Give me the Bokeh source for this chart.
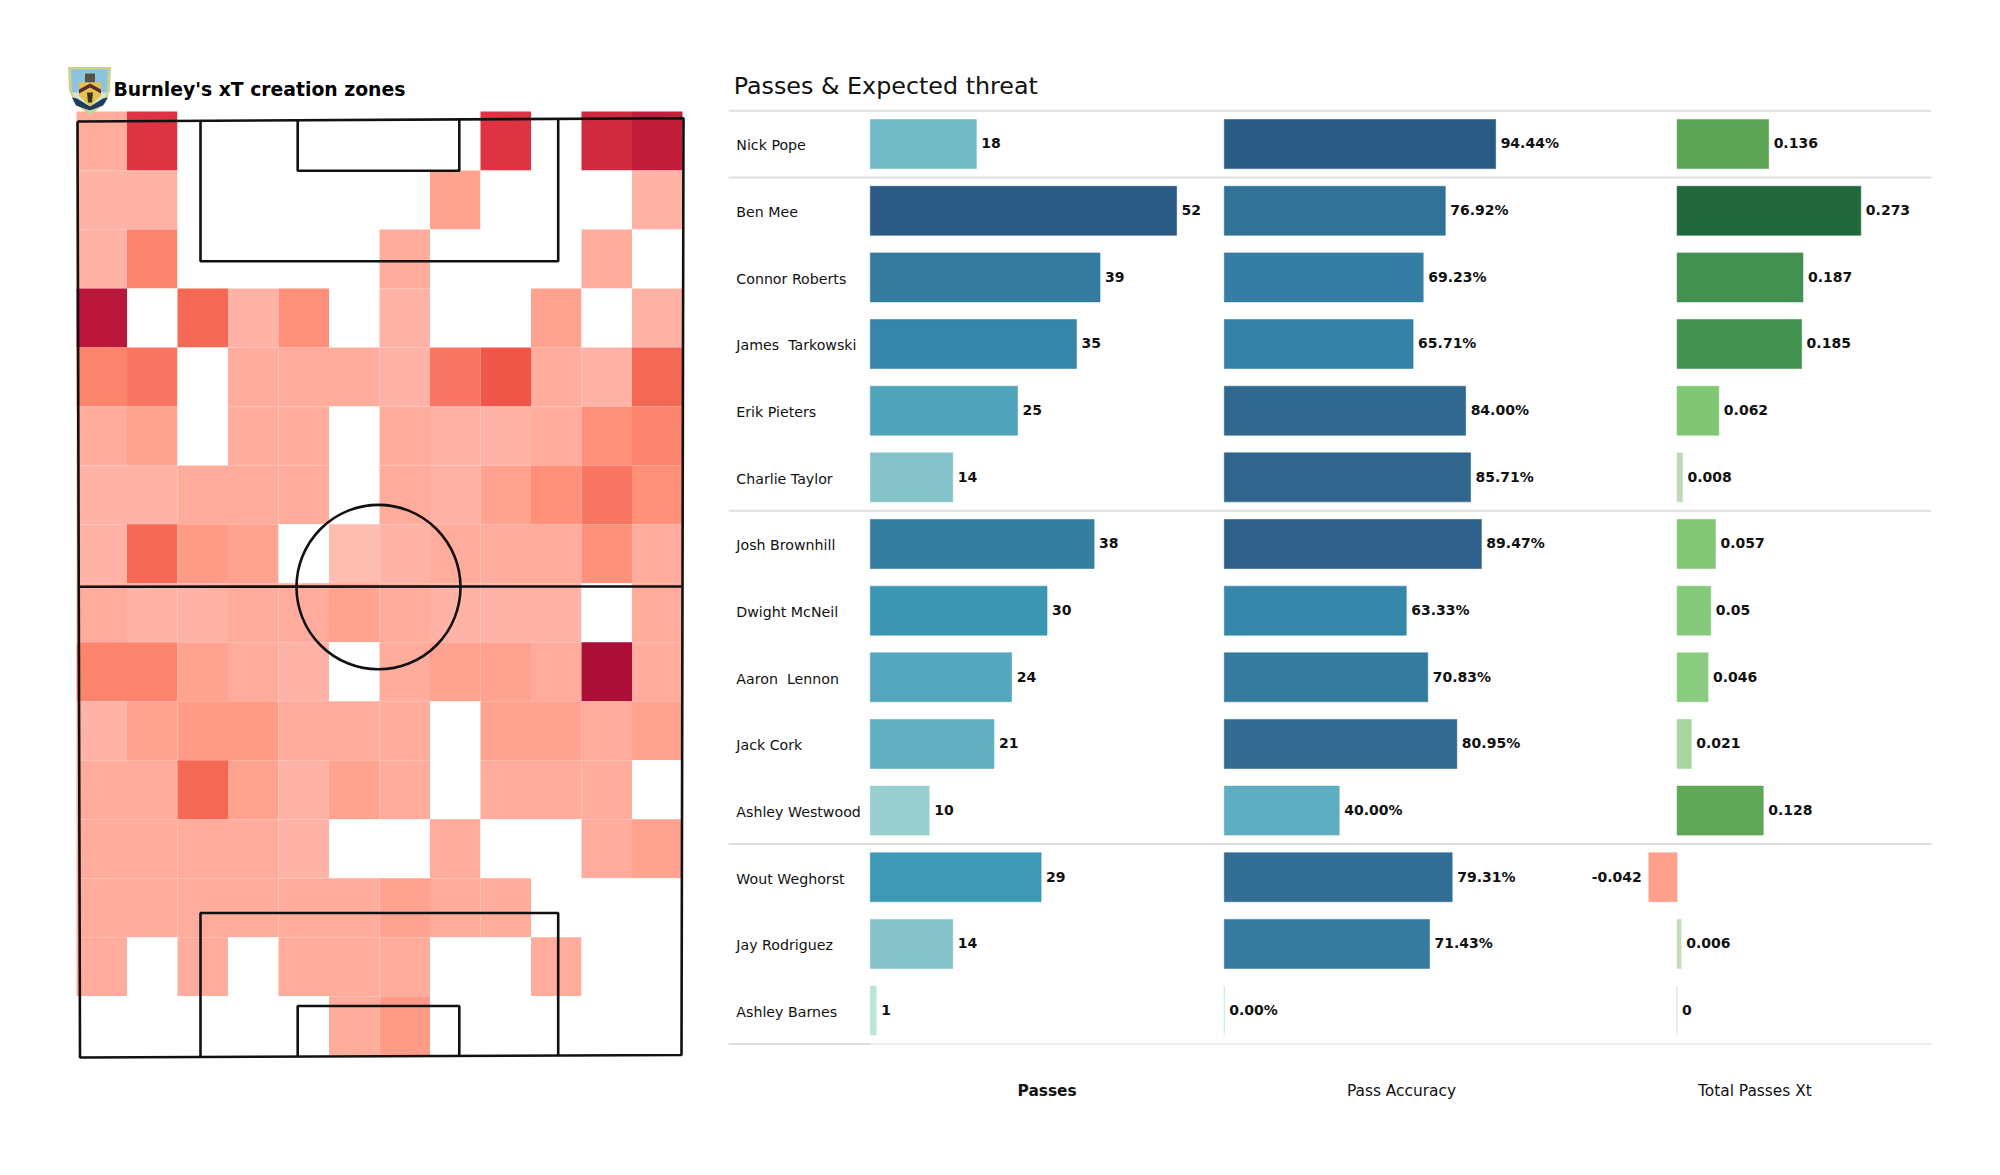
from bokeh.plotting import figure
from bokeh.layouts import row
from bokeh.models import Range1d, ColumnDataSource, LinearColorMapper
from bokeh.transform import transform
from bokeh.core.properties import value
from bokeh.embed import file_html
from bokeh.resources import INLINE
import numpy as np

# ---------- data ----------
players = ["Nick Pope", "Ben Mee", "Connor Roberts", "James\u00a0 Tarkowski", "Erik Pieters",
           "Charlie Taylor", "Josh Brownhill", "Dwight McNeil", "Aaron\u00a0 Lennon", "Jack Cork",
           "Ashley Westwood", "Wout Weghorst", "Jay Rodriguez", "Ashley Barnes"]
passes = [18, 52, 39, 35, 25, 14, 38, 30, 24, 21, 10, 29, 14, 1]
accuracy = [94.44, 76.92, 69.23, 65.71, 84.00, 85.71, 89.47, 63.33, 70.83, 80.95, 40.00, 79.31, 71.43, 0.00]
xt = [0.136, 0.273, 0.187, 0.185, 0.062, 0.008, 0.057, 0.05, 0.046, 0.021, 0.128, -0.042, 0.006, 0]
xt_labels = ["0.136", "0.273", "0.187", "0.185", "0.062", "0.008", "0.057", "0.05", "0.046", "0.021",
             "0.128", "-0.042", "0.006", "0"]
separators_after = [-1, 0, 5, 10, 13]
column_titles = ["Passes", "Pass Accuracy", "Total Passes Xt"]

# heat levels per zone (0 = no passes), top row first
zones = [
    [3, 11, 0, 0, 0, 0, 0, 0, 11, 0, 12, 13],
    [2, 2, 0, 0, 0, 0, 0, 4, 0, 0, 0, 2],
    [2, 7, 0, 0, 0, 0, 3, 0, 0, 0, 3, 0],
    [14, 0, 9, 2, 6, 0, 2, 0, 0, 4, 0, 2],
    [7, 8, 0, 3, 3, 3, 2, 8, 10, 3, 2, 9],
    [3, 4, 0, 3, 3, 0, 3, 2, 2, 3, 6, 7],
    [2, 2, 3, 3, 3, 0, 3, 2, 4, 6, 8, 6],
    [2, 9, 5, 4, 0, 1, 2, 3, 3, 3, 6, 3],
    [3, 2, 2, 3, 3, 4, 3, 2, 2, 2, 0, 3],
    [7, 7, 4, 3, 2, 0, 3, 4, 4, 3, 15, 3],
    [2, 4, 5, 5, 3, 3, 3, 0, 4, 4, 3, 4],
    [3, 3, 9, 4, 2, 4, 3, 0, 3, 3, 3, 0],
    [3, 3, 3, 3, 2, 0, 0, 3, 0, 0, 3, 4],
    [3, 3, 3, 3, 3, 3, 4, 3, 3, 0, 0, 0],
    [3, 0, 3, 0, 3, 3, 3, 0, 0, 3, 0, 0],
    [0, 0, 0, 0, 0, 3, 5, 0, 0, 0, 0, 0],
]
heat_palette = ["#ffbdb1", "#ffb3a6", "#ffac9d", "#ffa290", "#ff9b87", "#fe9079", "#fc846d", "#f87662",
                "#f56854", "#ef5648", "#dd3342", "#cf2a40", "#c31d3c", "#ba153b", "#ab0e37"]

# ---------- geometry ----------
L, T, R, B = 0, 0, 1984, 1159
SPLIT = 720
CX0, CW, CY0, CH = 76.0, 50.5, 111.0, 58.98
ROW0, ROWH = 143.6, 66.65
BAR_H = 0.735
INK = "#111111"
FONT = value("DejaVu Sans")


def ramp(anchors, n=160):
    ts = [a[0] for a in anchors]
    rgb = np.array([[int(a[1][i:i + 2], 16) for i in (1, 3, 5)] for a in anchors], float)
    out = []
    for t in np.linspace(0, 1, n):
        c = [int(round(np.interp(t, ts, rgb[:, k]))) for k in range(3)]
        out.append("#%02x%02x%02x" % tuple(c))
    return out


blue_ramp = ramp([(0, "#bfe6dc"), (.19, "#98cfce"), (.27, "#84c3c9"), (.35, "#70b8c5"), (.48, "#4fa4bc"),
                  (.58, "#3b96b3"), (.67, "#3586a9"), (.75, "#357ba0"), (.89, "#31688f"), (1, "#2b5a86")])
green_ramp = ramp([(0, "#d0e3c8"), (.03, "#b9d8b2"), (.08, "#a4d59b"), (.18, "#85ca7a"), (.23, "#80c673"),
                   (.47, "#5fa858"), (.68, "#449250"), (1, "#22683d")])

# ---------- pitch panel ----------
pitch = figure(width=SPLIT - L, height=B - T, x_range=Range1d(L, SPLIT), y_range=Range1d(B, T),
               output_backend="svg", toolbar_location=None, min_border=0)
pitch.axis.visible = False
pitch.grid.visible = False
pitch.outline_line_color = None

grid = np.array(zones, float)
grid[grid == 0] = np.nan
rr, cc = np.indices(grid.shape)
heat_src = ColumnDataSource(dict(
    left=CX0 + cc.ravel() * CW, right=CX0 + (cc.ravel() + 1) * CW,
    top=CY0 + rr.ravel() * CH, bottom=CY0 + (rr.ravel() + 1) * CH, v=grid.ravel()))
heat_map = LinearColorMapper(palette=heat_palette, low=1, high=16, nan_color="#ffffff")
pitch.quad(left="left", right="right", top="top", bottom="bottom", source=heat_src,
           fill_color=transform("v", heat_map), line_color=None)

pitch_lines = [
    ([77.0, 683.0, 681.0, 79.5, 77.0], [121.0, 117.7, 1054.5, 1057.0, 121.0]),
    ([78.0, 681.0], [586.2, 586.0]),
    ([200.0, 200.0, 557.7, 557.7], [120.2, 260.8, 260.8, 118.8]),
    ([297.2, 297.2, 458.8, 458.8], [119.8, 170.2, 170.2, 119.2]),
    ([200.0, 200.0, 557.7, 557.7], [1056.5, 912.5, 912.5, 1055.2]),
    ([297.2, 297.2, 458.8, 458.8], [1056.2, 1005.5, 1005.5, 1055.8]),
]
pitch.multi_line(xs=[l[0] for l in pitch_lines], ys=[l[1] for l in pitch_lines],
                 line_color=INK, line_width=2.6)
pitch.ellipse(x=[378.0], y=[586.6], width=[164], height=[164.5], fill_color=None,
              line_color=INK, line_width=2.6)

# club crest
pitch.patch([67.5, 110.5, 109.5, 104.5, 89.5, 74.5, 68.5], [66.5, 66.5, 90, 103, 115, 103, 90], fill_color="#c9d28e", line_color=None)
pitch.patch([70.5, 107.5, 106.5, 102.5, 89.5, 76.5, 71.5], [69, 69, 90, 101, 112, 101, 90], fill_color="#8cc4de", line_color=None)
pitch.patch([71.5, 106.5, 102.5, 89.5, 76.5], [92, 92, 101, 112, 101], fill_color="#d5e6cf", line_color=None)
pitch.patch([84.5, 94.5, 94.5, 84.5], [73, 73, 82, 82], fill_color="#5b5140", line_color=None)
pitch.patch([78.5, 100.5, 100.5, 89.5, 78.5], [82, 82, 95, 106, 95], fill_color="#e7c24a", line_color=None)
pitch.patch([78.5, 89.5, 100.5, 100.5, 89.5, 78.5], [89, 83, 89, 93, 87, 93], fill_color="#5b2b33", line_color=None)
pitch.patch([86.5, 92.5, 91.5, 87.5], [92, 92, 102, 102], fill_color="#3a3026", line_color=None)
pitch.patch([71.5, 76.5, 89.5, 102.5, 107.5, 102.5, 89.5, 75.5], [97, 98, 106, 98, 97, 105, 110, 105],
            fill_color="#1c3d5c", line_color=None)
pitch.text([113], [89], text=["Burnley's xT creation zones"], text_font=FONT, text_font_style="bold",
           text_font_size="18.8px", text_baseline="middle", text_color="#000000")

# ---------- bars panel ----------
k_p, x_p = 5.89, 869.8
k_a, x_a = 2.873, 1223.8
k_x, x_x = 673.0, 1676.6

bars = figure(width=R - SPLIT, height=B - T, x_range=Range1d(SPLIT, R),
              y_range=Range1d((B - ROW0) / ROWH, (T - ROW0) / ROWH),
              output_backend="svg", toolbar_location=None, min_border=0)
bars.axis.visible = False
bars.grid.visible = False
bars.outline_line_color = None
bars.extra_x_ranges = {
    "passes": Range1d((SPLIT - x_p) / k_p, (R - x_p) / k_p),
    "accuracy": Range1d((SPLIT - x_a) / k_a, (R - x_a) / k_a),
    "xt": Range1d((SPLIT - x_x) / k_x, (R - x_x) / k_x),
}
bars.extra_y_ranges = {"px": Range1d(B, T)}

rows = list(range(len(players)))
seps = [s + 0.5 for s in separators_after]
bars.segment(x0=[728] * 5, x1=[1931] * 5, y0=seps, y1=seps, line_color="#dedede", line_width=2)
bars.segment(x0=[870], x1=[1931], y0=[seps[-1]], y1=[seps[-1]], line_color="#eeeeee", line_width=2)

bars.text([735.8] * len(rows), [r + 0.02 for r in rows], text=players, text_font=FONT,
          text_font_size="14.2px", text_baseline="middle", text_color="#111111")
bars.text([733.2], [85.6], text=["Passes & Expected threat"], y_range_name="px", text_font=FONT,
          text_font_size="23.8px", text_baseline="middle", text_color="#111111")

blue_p = LinearColorMapper(palette=blue_ramp, low=0, high=52)
blue_a = LinearColorMapper(palette=blue_ramp, low=0, high=94.44)
green_x = LinearColorMapper(palette=green_ramp, low=0, high=0.273, low_color="#ffa08d")

src_p = ColumnDataSource(dict(y=rows, v=passes, t=[str(v) for v in passes]))
src_a = ColumnDataSource(dict(y=rows, v=accuracy, t=["%.2f%%" % v for v in accuracy]))
pos = [i for i, v in enumerate(xt) if v >= 0]
neg = [i for i, v in enumerate(xt) if v < 0]
src_x = ColumnDataSource(dict(y=rows, v=xt))
src_xp = ColumnDataSource(dict(y=pos, v=[xt[i] for i in pos], t=[xt_labels[i] for i in pos]))
src_xn = ColumnDataSource(dict(y=neg, v=[xt[i] for i in neg], t=[xt_labels[i] for i in neg]))

for rng, src, mapper in (("passes", src_p, blue_p), ("accuracy", src_a, blue_a), ("xt", src_x, green_x)):
    bars.hbar(y="y", left=0, right="v", height=BAR_H, source=src, x_range_name=rng,
              fill_color=transform("v", mapper), line_color=transform("v", mapper), line_width=0.6)

label = dict(text_font=FONT, text_font_style="bold", text_font_size="14px",
             text_baseline="middle", text_color="#111111", y_offset=-0.7)
bars.text(x="v", y="y", text="t", source=src_p, x_range_name="passes", x_offset=5, **label)
bars.text(x="v", y="y", text="t", source=src_a, x_range_name="accuracy", x_offset=5, **label)
bars.text(x="v", y="y", text="t", source=src_xp, x_range_name="xt", x_offset=5, **label)
bars.text(x="v", y="y", text="t", source=src_xn, x_range_name="xt", x_offset=-7, text_align="right", **label)

for cx, title, style in zip((1046.6, 1401, 1754.4), column_titles, ("bold", "normal", "normal")):
    bars.text([cx], [1090.7], text=[title], y_range_name="px", text_font=FONT, text_font_style=style,
              text_font_size="15.4px", text_align="center", text_baseline="middle", text_color="#111111")

page = row(pitch, bars)
open("out.html", "w").write(file_html(page, INLINE))
